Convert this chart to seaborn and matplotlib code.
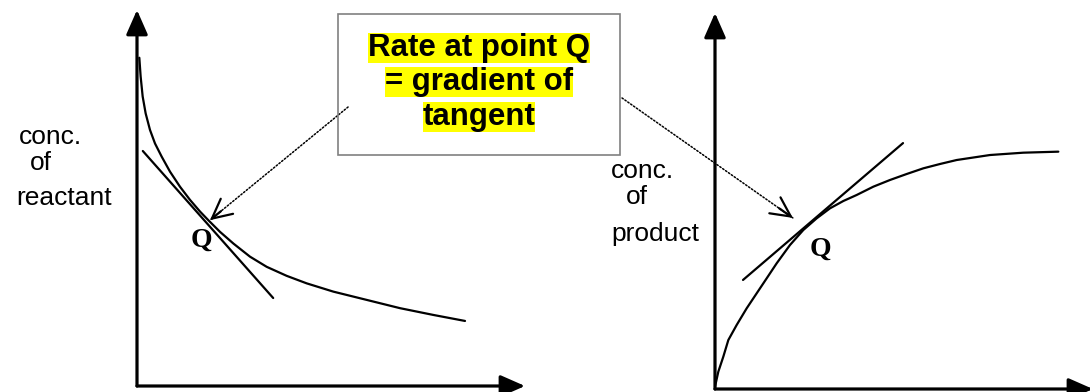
import matplotlib
matplotlib.use("Agg")
import matplotlib.pyplot as plt
import seaborn as sns
from matplotlib.patches import Rectangle

# --- values (both panels use 0..10 units on each axis) ---
reactant_time = [0.060, 0.094, 0.146, 0.223, 0.335, 0.464, 0.636, 0.851, 1.108, 1.366, 1.624,
                 1.838, 2.139, 2.483, 2.912, 3.342, 3.857, 4.373, 5.060, 5.919, 6.778, 7.637, 8.454]
reactant_conc = [8.73, 8.23, 7.70, 7.25, 6.81, 6.45, 6.10, 5.70, 5.30, 4.95, 4.64,
                 4.41, 4.10, 3.79, 3.44, 3.17, 2.93, 2.73, 2.51, 2.29, 2.07, 1.89, 1.73]
reactant_tangent_x = [0.15, 3.51]
reactant_tangent_y = [6.25, 2.34]
reactant_q = [1.88, 4.41]        # where the arrow points
reactant_q_label = [1.65, 3.88]

product_time = [0.0, 0.088, 0.220, 0.353, 0.573, 0.838, 1.102, 1.367, 1.631, 1.984, 2.337, 2.690,
                3.042, 3.395, 3.748, 4.189, 4.630, 5.071, 5.511, 5.952, 6.393, 7.275, 8.157, 9.083]
product_conc = [0.062, 0.461, 0.860, 1.303, 1.702, 2.146, 2.544, 2.943, 3.342, 3.830, 4.229, 4.539,
                4.805, 5.000, 5.160, 5.381, 5.559, 5.718, 5.869, 5.984, 6.090, 6.223, 6.285, 6.312]
product_tangent_x = [0.741, 4.974]
product_tangent_y = [2.90, 6.54]
product_q = [2.06, 4.55]
product_q_label = [2.80, 3.72]

# arrow tails (from the text box), in each panel's units
reactant_arrow_from = [5.44, 7.42]
product_arrow_from = [-2.46, 7.74]

box_lines = ["Rate at point Q", "= gradient of", "tangent"]
reactant_label = ["conc.", "of", "reactant"]
product_label = ["conc.", "of", "product"]

W, H = 1090, 392

sns.set_style("white")
plt.rcParams['font.family'] = ['Liberation Sans', 'DejaVu Sans']
plt.rcParams['text.color'] = 'black'

fig = plt.figure(figsize=(W / 100, H / 100), dpi=100)


def px_axes(x0, y_bottom, x1, y_top):
    # place an axes by pixel edges (y measured from the top of the image)
    return fig.add_axes([x0 / W, (H - y_bottom) / H, (x1 - x0) / W, (y_bottom - y_top) / H])


def setup_panel(ax):
    ax.set_xlim(0, 10)
    ax.set_ylim(0, 10)
    ax.set_axis_off()
    ax.patch.set_alpha(0)
    arrow = dict(arrowstyle="-|>,head_length=0.75,head_width=0.33", color="black",
                 lw=2.3, shrinkA=0, shrinkB=0, mutation_scale=20)
    ax.annotate("", xy=(0, 1), xytext=(0, 0), xycoords="axes fraction",
                arrowprops=arrow, annotation_clip=False)
    ax.annotate("", xy=(1, 0), xytext=(0, 0), xycoords="axes fraction",
                arrowprops=arrow, annotation_clip=False)


def pointer(ax, tail, tip):
    # dotted shaft plus a solid open head, like the original callout
    ax.annotate("", xy=tip, xytext=tail, annotation_clip=False,
                arrowprops=dict(arrowstyle="-", color="black", lw=1.1,
                                linestyle=(0, (1.0, 1.3)), shrinkA=0, shrinkB=0))
    near = [tip[0] + 0.08 * (tail[0] - tip[0]), tip[1] + 0.08 * (tail[1] - tip[1])]
    ax.annotate("", xy=tip, xytext=near, annotation_clip=False,
                arrowprops=dict(arrowstyle="->,head_length=0.7,head_width=0.35",
                                color="black", lw=1.6, shrinkA=0, shrinkB=0,
                                mutation_scale=20))


q_font = dict(family=['Liberation Serif', 'DejaVu Serif'], fontweight="bold", fontsize=20)

# left panel: reactant
ax1 = px_axes(137, 386, 525, 10)
setup_panel(ax1)
sns.lineplot(x=reactant_time, y=reactant_conc, ax=ax1, color="black", lw=1.6)
sns.lineplot(x=reactant_tangent_x, y=reactant_tangent_y, ax=ax1, color="black", lw=1.6)
ax1.text(*reactant_q_label, "Q", ha="center", va="center", **q_font)
pointer(ax1, reactant_arrow_from, reactant_q)

# right panel: product
ax2 = px_axes(715, 389, 1093, 13)
setup_panel(ax2)
sns.lineplot(x=product_time, y=product_conc, ax=ax2, color="black", lw=1.6)
sns.lineplot(x=product_tangent_x, y=product_tangent_y, ax=ax2, color="black", lw=1.6)
ax2.text(*product_q_label, "Q", ha="center", va="center", **q_font)
pointer(ax2, product_arrow_from, product_q)

# axis labels written beside the y axes
for txt, x, y in zip(reactant_label, [19, 30, 16], [144, 170, 205]):
    fig.text(x / W, 1 - y / H, txt, fontsize=19, va="baseline", ha="left")
for txt, x, y in zip(product_label, [611, 626, 611], [178, 204, 241]):
    fig.text(x / W, 1 - y / H, txt, fontsize=19, va="baseline", ha="left")

# callout box
fig.patches.append(Rectangle((338 / W, 1 - 155 / H), 282 / W, 141 / H,
                             transform=fig.transFigure, fill=False,
                             edgecolor="#808080", lw=1.2))
for txt, y in zip(box_lines, [48, 82, 117]):
    fig.text(479 / W, 1 - y / H, txt, fontsize=22.5, fontweight="bold",
             ha="center", va="center",
             bbox=dict(facecolor="#ffff00", edgecolor="none", pad=0))

fig.savefig("out.png", dpi=100)
